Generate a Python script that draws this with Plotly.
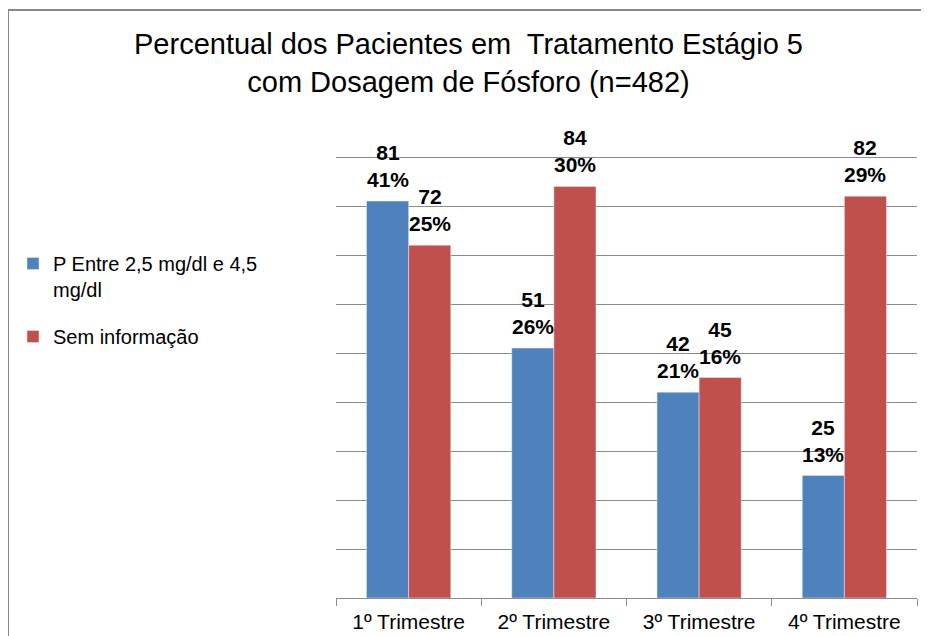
import plotly.graph_objects as go

categories = ["1º Trimestre", "2º Trimestre", "3º Trimestre", "4º Trimestre"]
series_names = ["P Entre 2,5 mg/dl e 4,5<br>mg/dl", "Sem informação"]
values_p = [81, 51, 42, 25]
pct_p = ["41%", "26%", "21%", "13%"]
values_sem = [72, 84, 45, 82]
pct_sem = ["25%", "30%", "16%", "29%"]
title_text = "Percentual dos Pacientes em  Tratamento Estágio 5<br>com Dosagem de Fósforo (n=482)"

# page body has an 8px default margin; figure coordinates = screen pixels - 8
W, H = 921, 628
L, R, T, B = 328, 12, 144, 38
pw = W - L - R
ph = H - T - B
px_per_unit = 441 / 90.0
y_top = ph / px_per_unit

def px2paper_x(px):
    return (px - L) / pw

def px2paper_y(py):
    return (H - B - py) / ph

FONT = "Liberation Sans, Arial, sans-serif"
BLUE = "#4F81BD"
RED = "#C0504D"
GRID = "#8C8C8C"

fig = go.Figure()
fig.add_trace(go.Bar(x=categories, y=values_p, name=series_names[0], marker_color=BLUE,
                     legendgroup="a"))
fig.add_trace(go.Bar(x=categories, y=values_sem, name=series_names[1], marker_color=RED,
                     legendgroup="b"))

annotations = []
for vals, pcts, shift in ((values_p, pct_p, -21), (values_sem, pct_sem, 21)):
    for c, v, p in zip(categories, vals, pcts):
        annotations.append(dict(
            x=c, y=v, xref="x", yref="y", text=f"{v}<br>{p}", showarrow=False,
            xshift=shift, yshift=8, yanchor="bottom",
            font=dict(family=FONT, size=21, color="black", weight="bold"),
        ))

fig.update_layout(
    width=W, height=H,
    margin=dict(l=L, r=R, t=T, b=B, pad=0, autoexpand=False),
    paper_bgcolor="white", plot_bgcolor="white",
    barmode="group", bargap=0.42, bargroupgap=0,
    title=dict(text=title_text, x=0.5, xref="container", xanchor="center",
               y=1 - 46 / H, yref="container", yanchor="top", automargin=False,
               font=dict(family=FONT, size=29, color="black")),
    font=dict(family=FONT, color="black"),
    legend=dict(x=px2paper_x(5), y=px2paper_y(236), xanchor="left", yanchor="top",
                xref="paper", yref="paper", valign="top", tracegroupgap=18,
                font=dict(family=FONT, size=20, color="black"),
                bgcolor="rgba(0,0,0,0)"),
    annotations=annotations,
    xaxis=dict(showline=True, linecolor=GRID, linewidth=1, ticks="outside",
               tickson="boundaries", ticklen=7, tickcolor=GRID, showgrid=False,
               ticklabelstandoff=5, automargin=False,
               tickfont=dict(family=FONT, size=21, color="black")),
    yaxis=dict(range=[0, y_top], dtick=10, tick0=0, showgrid=True, gridcolor=GRID, gridwidth=1,
               showticklabels=False, zeroline=False, showline=False, ticks="",
               automargin=False),
    shapes=[dict(type="rect", xref="paper", yref="paper",
                 x0=px2paper_x(0), x1=px2paper_x(960),
                 y0=px2paper_y(680), y1=px2paper_y(2),
                 line=dict(color="#898989", width=2), layer="below")],
)

fig.write_html("out.html")
